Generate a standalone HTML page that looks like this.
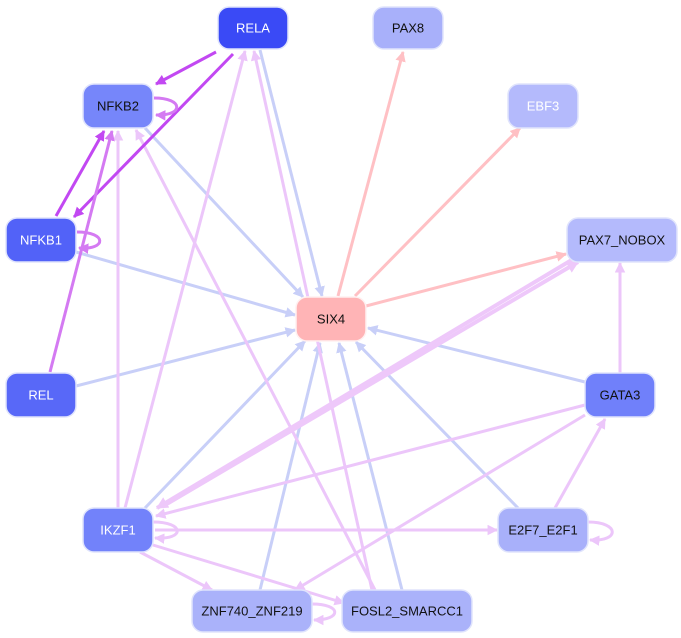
<!DOCTYPE html>
<html><head><meta charset="utf-8"><style>
html,body{margin:0;padding:0;background:#fff;width:681px;height:638px;overflow:hidden}
text{font-family:"Liberation Sans",sans-serif;font-size:13px;text-anchor:middle;dominant-baseline:central}
</style></head><body>
<svg width="681" height="638" viewBox="0 0 681 638" xmlns="http://www.w3.org/2000/svg">
<defs>
<marker id="mp" viewBox="0 0 10 10" refX="9" refY="5" markerWidth="3.5" markerHeight="3.5" orient="auto" markerUnits="strokeWidth"><path d="M0,0L10,5L0,10z" fill="#c248f2"/></marker>
<marker id="mm" viewBox="0 0 10 10" refX="9" refY="5" markerWidth="3.5" markerHeight="3.5" orient="auto" markerUnits="strokeWidth"><path d="M0,0L10,5L0,10z" fill="#d47af2"/></marker>
<marker id="ml" viewBox="0 0 10 10" refX="9" refY="5" markerWidth="3.5" markerHeight="3.5" orient="auto" markerUnits="strokeWidth"><path d="M0,0L10,5L0,10z" fill="#ecc6fa"/></marker>
<marker id="mt" viewBox="0 0 10 10" refX="9" refY="5" markerWidth="3" markerHeight="3" orient="auto" markerUnits="strokeWidth"><path d="M0,0L10,5L0,10z" fill="#eec8fa"/></marker>
<marker id="mb" viewBox="0 0 10 10" refX="9" refY="5" markerWidth="3.5" markerHeight="3.5" orient="auto" markerUnits="strokeWidth"><path d="M0,0L10,5L0,10z" fill="#c8cff8"/></marker>
<marker id="mr" viewBox="0 0 10 10" refX="9" refY="5" markerWidth="3.5" markerHeight="3.5" orient="auto" markerUnits="strokeWidth"><path d="M0,0L10,5L0,10z" fill="#ffc0c4"/></marker>
</defs>
<g fill="none" stroke-width="3">
<g stroke="#c8cff8" marker-end="url(#mb)">
<line x1="260" y1="50" x2="322" y2="296"/>
<line x1="145" y1="128" x2="303" y2="297"/>
<line x1="76" y1="252" x2="295" y2="315"/>
<line x1="76" y1="386" x2="295" y2="330"/>
<line x1="145" y1="508" x2="305" y2="341"/>
<line x1="260" y1="590" x2="320" y2="343"/>
<line x1="402" y1="590" x2="339" y2="343"/>
<line x1="518" y1="508" x2="356" y2="342"/>
<line x1="585" y1="382" x2="368" y2="328"/>
</g>
<g stroke="#ffc0c4" marker-end="url(#mr)">
<line x1="338" y1="296" x2="403" y2="52"/>
<line x1="355" y1="296" x2="520" y2="128"/>
<line x1="366" y1="306" x2="566" y2="254"/>
</g>
<g stroke="#ecc6fa" marker-end="url(#ml)">
<line x1="118" y1="508" x2="118" y2="131"/>
<line x1="125" y1="508" x2="245" y2="51"/>
<line x1="375" y1="590" x2="136" y2="130"/>
<line x1="372" y1="590" x2="254" y2="51"/>
<line x1="620" y1="373" x2="620" y2="263"/>
<line x1="585" y1="405" x2="156" y2="516"/>
<line x1="585" y1="415" x2="295" y2="590"/>
<line x1="555" y1="508" x2="605" y2="419"/>
<line x1="155" y1="530" x2="497" y2="530"/>
<line x1="140" y1="552" x2="212" y2="590"/>
<line x1="153" y1="545" x2="344" y2="603"/>
<path d="M153,522 C185,522 185,540 155,538"/>
<path d="M588,522 C620,522 620,542 590,540"/>
<path d="M312,604 C342,604 342,620 314,620"/>
</g>
<g stroke="#eec8fa" stroke-width="4" marker-end="url(#mt)">
<line x1="575" y1="258" x2="157" y2="508"/>
<line x1="165" y1="505" x2="578" y2="262"/>
</g>
<g stroke="#c248f2" marker-end="url(#mp)">
<line x1="216" y1="52" x2="156" y2="84"/>
<line x1="233" y1="54" x2="74" y2="217"/>
<line x1="56" y1="216" x2="104" y2="131"/>
</g>
<g stroke="#d47af2" marker-end="url(#mm)">
<line x1="50" y1="372" x2="112" y2="131"/>
<path d="M154,98 C184,98 184,116 156,115"/>
<path d="M77,232 C107,232 107,250 79,248"/>
</g>
</g>
<g stroke="#e0e4fc" stroke-width="1.5">
<rect x="218" y="7" width="70" height="42" rx="11" fill="#3a4af6"/>
<rect x="373" y="7" width="70" height="42" rx="11" fill="#a8b0fa"/>
<rect x="83" y="84" width="70" height="44" rx="11" fill="#7686fa"/>
<rect x="508" y="84" width="70" height="44" rx="11" fill="#b4bafc"/>
<rect x="6" y="218" width="70" height="44" rx="11" fill="#5262f8"/>
<rect x="567" y="218" width="110" height="44" rx="11" fill="#b4bafc"/>
<rect x="296" y="297" width="70" height="44" rx="11" fill="#ffb4b6" stroke="#fff0f0"/>
<rect x="6" y="373" width="70" height="44" rx="11" fill="#5868f8"/>
<rect x="585" y="373" width="70" height="44" rx="11" fill="#7080fa"/>
<rect x="83" y="508" width="70" height="44" rx="11" fill="#7282fa"/>
<rect x="498" y="508" width="90" height="44" rx="11" fill="#a8b0fa"/>
<rect x="192" y="590" width="120" height="42" rx="11" fill="#aab2fa"/>
<rect x="342" y="590" width="130" height="42" rx="11" fill="#aab2fa"/>
</g>
<text x="253" y="28" fill="#fff">RELA</text>
<text x="408" y="28" fill="#111">PAX8</text>
<text x="118" y="106" fill="#111">NFKB2</text>
<text x="543" y="106" fill="#fff">EBF3</text>
<text x="41" y="240" fill="#fff">NFKB1</text>
<text x="622" y="240" fill="#111">PAX7_NOBOX</text>
<text x="331" y="319" fill="#111">SIX4</text>
<text x="41" y="395" fill="#fff">REL</text>
<text x="620" y="395" fill="#111">GATA3</text>
<text x="118" y="530" fill="#fff">IKZF1</text>
<text x="543" y="530" fill="#111">E2F7_E2F1</text>
<text x="252" y="611" fill="#111">ZNF740_ZNF219</text>
<text x="407" y="611" fill="#111">FOSL2_SMARCC1</text>
</svg>
</body></html>
